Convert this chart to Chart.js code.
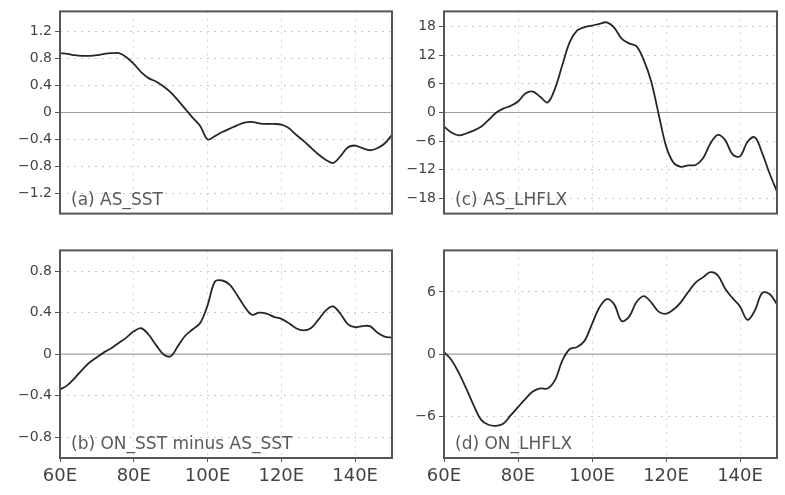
<!DOCTYPE html>
<html>
<head>
<meta charset="utf-8">
<script src="https://cdn.jsdelivr.net/npm/chart.js@4.4.0/dist/chart.umd.min.js"></script>
<style>
  body { margin: 0; background: #fff; }
  #wrap { position: relative; width: 785px; height: 495px; overflow: hidden; background: #fff; }
  canvas { position: absolute; }
</style>
</head>
<body>
<div id="wrap">
  <canvas id="chartA" width="395" height="225" style="left:0;top:0"></canvas>
  <canvas id="chartC" width="396" height="225" style="left:384px;top:0"></canvas>
  <canvas id="chartB" width="395" height="256" style="left:0;top:239px"></canvas>
  <canvas id="chartD" width="396" height="256" style="left:384px;top:239px"></canvas>
</div>
<script>
// longitudes (degrees E), every 2 degrees
const lon = [60, 62, 64, 66, 68, 70, 72, 74, 76, 78, 80, 82, 84, 86, 88, 90, 92, 94, 96, 98,
             100, 102, 104, 106, 108, 110, 112, 114, 116, 118, 120, 122, 124, 126, 128, 130,
             132, 134, 136, 138, 140, 142, 144, 146, 148, 150];

// (a) AS_SST
const asSst = [0.88, 0.87, 0.85, 0.84, 0.84, 0.85, 0.87, 0.88, 0.88, 0.82, 0.72, 0.60, 0.51, 0.46,
               0.39, 0.30, 0.18, 0.05, -0.08, -0.20, -0.40, -0.35, -0.29, -0.24, -0.19, -0.15,
               -0.14, -0.16, -0.17, -0.17, -0.18, -0.23, -0.33, -0.42, -0.52, -0.62, -0.70, -0.75,
               -0.65, -0.52, -0.49, -0.53, -0.56, -0.53, -0.46, -0.33];

// (b) ON_SST minus AS_SST
const sstDiff = [-0.34, -0.30, -0.23, -0.15, -0.08, -0.03, 0.02, 0.06, 0.11, 0.16, 0.22, 0.25, 0.19,
                 0.09, 0.00, -0.02, 0.08, 0.18, 0.24, 0.30, 0.47, 0.70, 0.71, 0.67, 0.57, 0.46, 0.38,
                 0.40, 0.39, 0.36, 0.34, 0.30, 0.25, 0.23, 0.25, 0.33, 0.42, 0.46, 0.39, 0.29, 0.26,
                 0.27, 0.27, 0.21, 0.17, 0.16];

// (c) AS_LHFLX
const asLhflx = [-2.9, -4.2, -4.8, -4.4, -3.8, -3.0, -1.6, -0.1, 0.8, 1.4, 2.3, 4.0, 4.4, 3.3, 2.1,
                 5.0, 10.0, 14.8, 17.2, 17.9, 18.2, 18.6, 18.9, 17.8, 15.5, 14.5, 13.9, 11.0, 6.5,
                 -0.3, -7.0, -10.5, -11.4, -11.1, -11.0, -9.6, -6.5, -4.7, -5.8, -8.8, -9.2, -6.2,
                 -5.2, -8.5, -12.8, -16.6];

// (d) ON_LHFLX
const onLhflx = [0.2, -0.55, -1.8, -3.3, -4.9, -6.3, -6.8, -6.9, -6.7, -5.9, -5.1, -4.3, -3.6, -3.3,
                 -3.3, -2.5, -0.6, 0.5, 0.7, 1.3, 2.9, 4.5, 5.3, 4.8, 3.2, 3.6, 5.0, 5.6, 5.0, 4.1,
                 3.9, 4.3, 5.0, 6.0, 6.9, 7.4, 7.9, 7.6, 6.3, 5.4, 4.6, 3.3, 4.2, 5.9, 5.8, 4.8];

// tick labels
const lonTicks = [60, 80, 100, 120, 140];
const sstTicks = [-1.2, -0.8, -0.4, 0, 0.4, 0.8, 1.2];
const diffTicks = [-0.8, -0.4, 0, 0.4, 0.8];
const asLhTicks = [-18, -12, -6, 0, 6, 12, 18];
const onLhTicks = [-6, 0, 6];


// zero line, frame box and panel label
const framePlugin = {
    id: 'frame',
    beforeDatasetsDraw(chart) {
        const ctx = chart.ctx;
        const a = chart.chartArea;
        const y0 = chart.scales.y.getPixelForValue(0);
        ctx.save();
        ctx.strokeStyle = '#a0a0a0';
        ctx.lineWidth = 1.2;
        ctx.beginPath();
        ctx.moveTo(a.left, y0);
        ctx.lineTo(a.right, y0);
        ctx.stroke();
        ctx.restore();
    },
    afterDraw(chart, args, opts) {
        const ctx = chart.ctx;
        const a = chart.chartArea;
        ctx.save();
        ctx.strokeStyle = '#555';
        ctx.lineWidth = 2;
        ctx.strokeRect(a.left, a.top, a.right - a.left, a.bottom - a.top);
        ctx.fillStyle = '#5a5a5a';
        ctx.font = '17px "DejaVu Sans"';
        ctx.textBaseline = 'alphabetic';
        ctx.fillText(opts.label, a.left + 11, a.bottom - 9);
        ctx.restore();
    }
};


function makePanel(id, values, yTicks, yLimit, label, showX) {
    const ctx = document.getElementById(id).getContext('2d');
    return new Chart(ctx, {
        type: 'line',
        data: {
            datasets: [{
                data: lon.map((x, i) => ({ x: x, y: values[i] })),
                borderColor: '#262626',
                borderWidth: 1.8,
                pointRadius: 0,
                tension: 0.35,
                fill: false
            }]
        },
        options: {
            responsive: false,
            animation: false,
            layout: { padding: { top: 4, right: 3, left: 0, bottom: 0 } },
            plugins: {
                legend: { display: false },
                tooltip: { enabled: false },
                frame: { label: label }
            },
            scales: {
                x: {
                    type: 'linear',
                    min: 60,
                    max: 150,
                    afterBuildTicks: function(scale) {
                        scale.ticks = lonTicks.map(v => ({ value: v }));
                    },
                    afterFit: function(scale) {
                        scale.height = showX ? 37 : 5;
                    },
                    border: { display: false, dash: [2, 5] },
                    grid: {
                        color: '#d2d2d2',
                        lineWidth: 1,
                        drawTicks: showX,
                        tickLength: 4,
                        tickColor: '#555',
                        tickBorderDash: []
                    },
                    ticks: {
                        display: showX,
                        maxRotation: 0,
                        autoSkip: false,
                        padding: 4,
                        color: '#444',
                        font: { family: 'DejaVu Sans', size: 18 },
                        callback: function(value) {
                            return value + 'E';
                        }
                    }
                },
                y: {
                    min: -yLimit,
                    max: yLimit,
                    afterBuildTicks: function(scale) {
                        scale.ticks = yTicks.map(v => ({ value: v }));
                    },
                    afterFit: function(scale) {
                        scale.width = 60;
                    },
                    border: { display: false, dash: [2, 5] },
                    grid: {
                        color: function(c) {
                            return c.tick && c.tick.value === 0 ? 'rgba(0,0,0,0)' : '#cacaca';
                        },
                        lineWidth: 1,
                        drawTicks: true,
                        tickLength: 5,
                        tickColor: '#555',
                        tickBorderDash: []
                    },
                    ticks: {
                        padding: 3,
                        color: '#444',
                        font: { family: 'DejaVu Sans', size: 14 },
                        callback: function(value) {
                            return String(value).replace('-', '\u2212');
                        }
                    }
                }
            }
        },
        plugins: [framePlugin]
    });
}


makePanel('chartA', asSst, sstTicks, 1.5, '(a) AS_SST', false);
makePanel('chartC', asLhflx, asLhTicks, 21.2, '(c) AS_LHFLX', false);
makePanel('chartB', sstDiff, diffTicks, 1.0, '(b) ON_SST minus AS_SST', true);
makePanel('chartD', onLhflx, onLhTicks, 10, '(d) ON_LHFLX', true);
</script>
</body>
</html>
